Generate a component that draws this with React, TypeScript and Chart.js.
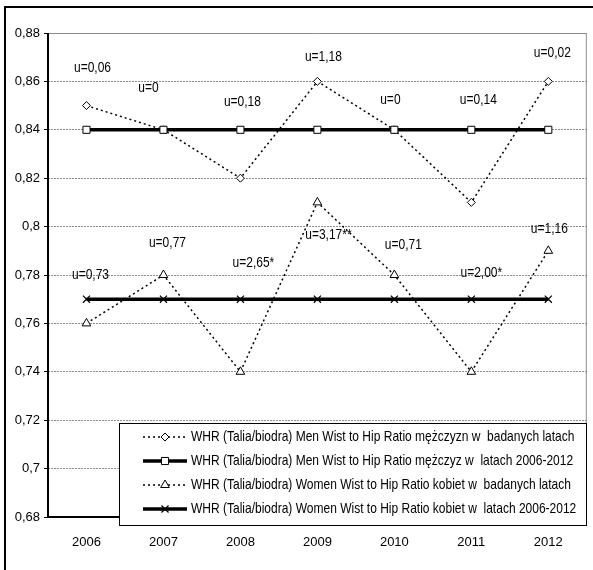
import React, { useEffect, useRef } from 'react';
import { Chart, registerables } from 'chart.js';

Chart.register(...registerables);

// ---- data ----
const years = ['2006', '2007', '2008', '2009', '2010', '2011', '2012'];
const menYearly = [0.85, 0.84, 0.82, 0.86, 0.84, 0.81, 0.86];
const menOverall = [0.84, 0.84, 0.84, 0.84, 0.84, 0.84, 0.84];
const womenYearly = [0.76, 0.78, 0.74, 0.81, 0.78, 0.74, 0.79];
const womenOverall = [0.77, 0.77, 0.77, 0.77, 0.77, 0.77, 0.77];
const menU = ['u=0,06', 'u=0', 'u=0,18', 'u=1,18', 'u=0', 'u=0,14', 'u=0,02'];
const womenU = ['u=0,73', 'u=0,77', 'u=2,65*', 'u=3,17**', 'u=0,71', 'u=2,00*', 'u=1,16'];
const seriesLabels = [
  'WHR (Talia/biodra) Men Wist to Hip Ratio mężczyzn w  badanych latach',
  'WHR (Talia/biodra) Men Wist to Hip Ratio mężczyz w  latach 2006-2012',
  'WHR (Talia/biodra) Women Wist to Hip Ratio kobiet w  badanych latach',
  'WHR (Talia/biodra) Women Wist to Hip Ratio kobiet w  latach 2006-2012',
];
const yMin = 0.68;
const yMax = 0.88;
const yStep = 0.02;

// ---- layout of the u= annotations (placement only) ----
const menLabelDx = [6, -15, 2, 6, -4, 7, 4];
const menLabelAt = [0.8657, 0.8575, 0.8517, 0.8703, 0.8525, 0.8525, 0.8719];
const womenLabelDx = [4, 4, 13, 11, 9, 10, 1];
const womenLabelAt = [0.7801, 0.7934, 0.7851, 0.7967, 0.7925, 0.781, 0.7992];

const FONT = '"Liberation Sans", Arial, sans-serif';
const CONDENSE = 0.8;

function condensedText(ctx: CanvasRenderingContext2D, t: string, x: number, y: number) {
  const w = ctx.measureText(t).width;
  ctx.fillText(t, x, y, w * CONDENSE);
}

function drawMarker(ctx: CanvasRenderingContext2D, style: string, x: number, y: number, r: number, lw: number) {
  ctx.save();
  ctx.setLineDash([]);
  ctx.lineWidth = lw;
  ctx.strokeStyle = '#000';
  ctx.fillStyle = '#fff';
  ctx.beginPath();
  if (style === 'rectRot') {
    ctx.moveTo(x - r, y);
    ctx.lineTo(x, y - r);
    ctx.lineTo(x + r, y);
    ctx.lineTo(x, y + r);
    ctx.closePath();
    ctx.fill();
    ctx.stroke();
  } else if (style === 'rect') {
    const s = r * Math.SQRT1_2;
    ctx.rect(x - s, y - s, 2 * s, 2 * s);
    ctx.fill();
    ctx.stroke();
  } else if (style === 'triangle') {
    const h = r * Math.sin(Math.PI / 3);
    ctx.moveTo(x, y - r);
    ctx.lineTo(x + h, y + r / 2);
    ctx.lineTo(x - h, y + r / 2);
    ctx.closePath();
    ctx.fill();
    ctx.stroke();
  } else if (style === 'crossRot') {
    const o = r * Math.SQRT1_2;
    ctx.moveTo(x - o, y - o);
    ctx.lineTo(x + o, y + o);
    ctx.moveTo(x + o, y - o);
    ctx.lineTo(x - o, y + o);
    ctx.stroke();
  }
  ctx.restore();
}

const decorPlugin = {
  id: 'decor',
  beforeDraw(chart: any) {
    const { ctx, width, height } = chart;
    ctx.save();
    ctx.fillStyle = '#fff';
    ctx.fillRect(0, 0, width, height);
    ctx.restore();
  },
  beforeDatasetsDraw(chart: any) {
    const { ctx, chartArea: a } = chart;
    ctx.save();
    ctx.strokeStyle = '#8c8c8c';
    ctx.lineWidth = 1;
    ctx.beginPath();
    ctx.moveTo(a.left, a.top + 0.5);
    ctx.lineTo(a.right - 0.5, a.top + 0.5);
    ctx.lineTo(a.right - 0.5, a.bottom);
    ctx.stroke();
    ctx.strokeStyle = '#000';
    ctx.lineWidth = 2;
    ctx.beginPath();
    ctx.moveTo(a.left, a.top);
    ctx.lineTo(a.left, a.bottom);
    ctx.lineTo(a.right, a.bottom);
    ctx.stroke();
    ctx.restore();
  },
  afterDraw(chart: any) {
    const { ctx } = chart;
    const xs = chart.scales.x;
    const ys = chart.scales.y;
    ctx.save();
    // u= annotations
    ctx.fillStyle = '#000';
    ctx.font = `15px ${FONT}`;
    ctx.textAlign = 'center';
    ctx.textBaseline = 'middle';
    menU.forEach((t, i) => {
      condensedText(ctx, t, xs.getPixelForValue(i) + menLabelDx[i], ys.getPixelForValue(menLabelAt[i]));
    });
    womenU.forEach((t, i) => {
      condensedText(ctx, t, xs.getPixelForValue(i) + womenLabelDx[i], ys.getPixelForValue(womenLabelAt[i]));
    });

    // legend
    const lx = 119.5, ly = 423.5, lw = 467, lh = 102;
    ctx.fillStyle = '#fff';
    ctx.fillRect(lx, ly, lw, lh);
    ctx.strokeStyle = '#000';
    ctx.lineWidth = 1;
    ctx.strokeRect(lx, ly, lw, lh);
    chart.data.datasets.forEach((ds: any, i: number) => {
      const ry = 437 + i * 24;
      ctx.save();
      ctx.strokeStyle = '#000';
      ctx.lineWidth = ds.borderWidth;
      ctx.setLineDash(ds.borderDash || []);
      ctx.beginPath();
      ctx.moveTo(143, ry);
      ctx.lineTo(187, ry);
      ctx.stroke();
      ctx.restore();
      drawMarker(ctx, ds.pointStyle, 165, ry, ds.pointRadius, ds.pointBorderWidth);
      ctx.fillStyle = '#000';
      ctx.font = `15px ${FONT}`;
      ctx.textAlign = 'left';
      ctx.textBaseline = 'middle';
      condensedText(ctx, ds.label, 191, ry);
    });

    // outer frame
    ctx.fillStyle = '#000';
    ctx.fillRect(4, 6, chart.width, 2);
    ctx.fillRect(4, 6, 2, chart.height);
    ctx.restore();
  },
};

export default function App() {
  const ref = useRef<HTMLCanvasElement | null>(null);
  useEffect(() => {
    document.body.style.margin = '0';
    if (!ref.current) return;
    const dotted = [2, 3];
    const chart = new Chart(ref.current, {
      type: 'line',
      data: {
        labels: years,
        datasets: [
          {
            label: seriesLabels[0], data: menYearly, borderColor: '#000', borderWidth: 1.5, borderDash: dotted,
            pointStyle: 'rectRot', pointRadius: 4, pointBackgroundColor: '#fff', pointBorderColor: '#000',
            pointBorderWidth: 1, order: 1, tension: 0, fill: false,
          } as any,
          {
            label: seriesLabels[1], data: menOverall, borderColor: '#000', borderWidth: 3.5,
            pointStyle: 'rect', pointRadius: 5, pointBackgroundColor: '#fff', pointBorderColor: '#000',
            pointBorderWidth: 1, order: 0, tension: 0, fill: false,
          } as any,
          {
            label: seriesLabels[2], data: womenYearly, borderColor: '#000', borderWidth: 1.5, borderDash: dotted,
            pointStyle: 'triangle', pointRadius: 5, pointBackgroundColor: '#fff', pointBorderColor: '#000',
            pointBorderWidth: 1, order: 1, tension: 0, fill: false,
          } as any,
          {
            label: seriesLabels[3], data: womenOverall, borderColor: '#000', borderWidth: 3.5,
            pointStyle: 'crossRot', pointRadius: 5, pointBackgroundColor: '#fff', pointBorderColor: '#000',
            pointBorderWidth: 1.2, order: 0, tension: 0, fill: false,
          } as any,
        ],
      },
      options: {
        responsive: false,
        animation: false,
        devicePixelRatio: 1,
        layout: { padding: { left: 0, top: 33, right: 5, bottom: 0 } },
        plugins: { legend: { display: false }, tooltip: { enabled: false } },
        scales: {
          x: {
            type: 'category',
            offset: true,
            grid: { display: false, drawTicks: false },
            border: { display: false },
            ticks: { color: '#000', font: { family: FONT, size: 13 }, padding: 18, maxRotation: 0, autoSkip: false },
            afterFit: (s: any) => { s.height = 53; },
          },
          y: {
            min: yMin,
            max: yMax,
            border: { display: false, dash: [2, 1] },
            grid: { color: '#8c8c8c', tickColor: '#000', tickLength: 4, drawTicks: true, lineWidth: 1 },
            ticks: {
              stepSize: yStep,
              color: '#000',
              font: { family: FONT, size: 13 },
              padding: 4,
              callback: (v: any) => String(Number(Number(v).toFixed(2))).replace('.', ','),
            },
            afterFit: (s: any) => { s.width = 48; },
          },
        },
      } as any,
      plugins: [decorPlugin],
    });
    return () => chart.destroy();
  }, []);
  return <canvas ref={ref} width={593} height={570} style={{ display: 'block' }} />;
}
